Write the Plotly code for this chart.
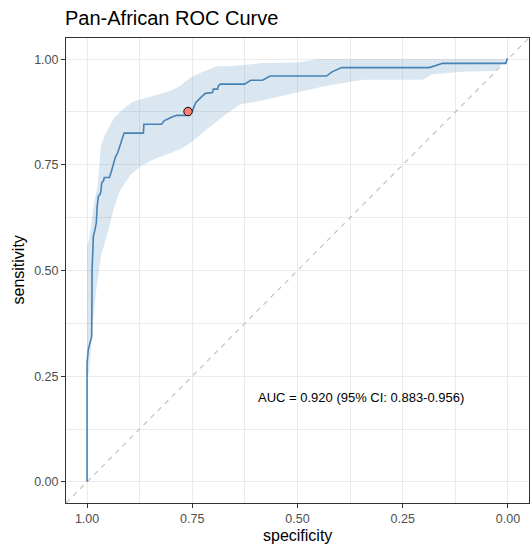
import plotly.graph_objects as go

# ROC curve (specificity, sensitivity)
roc_spec = [1.000, 1.000, 0.997, 0.993, 0.989, 0.988, 0.985, 0.981, 0.978, 0.976,
            0.973, 0.969, 0.967, 0.965, 0.961, 0.959, 0.947, 0.943, 0.937, 0.933,
            0.927, 0.912, 0.866, 0.865, 0.823, 0.817, 0.801, 0.787, 0.766, 0.760,
            0.750, 0.742, 0.730, 0.719, 0.702, 0.700, 0.690, 0.688, 0.683, 0.626,
            0.611, 0.583, 0.565, 0.431, 0.418, 0.395, 0.187, 0.155, 0.005, 0.002, 0.000]
roc_sens = [0.000, 0.281, 0.313, 0.329, 0.344, 0.502, 0.581, 0.597, 0.613, 0.652,
            0.676, 0.680, 0.688, 0.708, 0.712, 0.720, 0.720, 0.732, 0.755, 0.767,
            0.779, 0.825, 0.825, 0.846, 0.846, 0.854, 0.862, 0.867, 0.867, 0.876,
            0.877, 0.897, 0.909, 0.919, 0.921, 0.929, 0.929, 0.937, 0.941, 0.941,
            0.950, 0.950, 0.960, 0.960, 0.970, 0.980, 0.980, 0.990, 0.990, 1.000, 1.000]

# 95% CI band of sensitivity
ci_upper_spec = [1.000, 0.995, 0.983, 0.975, 0.967, 0.959, 0.935, 0.920, 0.892, 0.857,
                 0.801, 0.778, 0.754, 0.730, 0.691, 0.660, 0.581, 0.502, 0.455, 0.000]
ci_upper_sens = [0.558, 0.573, 0.661, 0.700, 0.795, 0.818, 0.862, 0.877, 0.899, 0.909,
                 0.925, 0.937, 0.957, 0.968, 0.983, 0.983, 0.991, 0.992, 1.000, 1.000]
ci_lower_spec = [1.000, 0.995, 0.987, 0.979, 0.967, 0.951, 0.935, 0.920, 0.896, 0.872,
                 0.841, 0.809, 0.778, 0.754, 0.730, 0.715, 0.675, 0.636, 0.589, 0.557,
                 0.502, 0.431, 0.344, 0.203, 0.179, 0.100, 0.029, 0.005, 0.000]
ci_lower_sens = [0.251, 0.258, 0.368, 0.448, 0.534, 0.590, 0.652, 0.692, 0.727, 0.747,
                 0.763, 0.775, 0.787, 0.803, 0.822, 0.834, 0.866, 0.893, 0.901, 0.909,
                 0.921, 0.937, 0.951, 0.951, 0.964, 0.971, 0.972, 1.000, 1.000]

# Best threshold point
best_spec = [0.760]
best_sens = [0.876]

auc_text = "AUC = 0.920 (95% CI: 0.883-0.956)"
auc_pos = (0.35, 0.2)

tick_vals = [1.0, 0.75, 0.5, 0.25, 0.0]
tick_text = ["1.00", "0.75", "0.50", "0.25", "0.00"]
minor_vals = [0.875, 0.625, 0.375, 0.125]

lo, hi = 0.0, 1.0
pad = 0.05 * (hi - lo)
rng_lo, rng_hi = lo - pad, hi + pad

FONT = "Liberation Sans, Arial, Helvetica, sans-serif"
steel = "#4682B4"

W, H = 531, 548
ML, MR, MT, MB = 66, 2, 38, 45
PW, PH = W - ML - MR, H - MT - MB

fig = go.Figure()

# diagonal reference (sens = 1 - spec), across full panel
diag_x = [rng_hi, rng_lo]
diag_y = [1 - v for v in diag_x]
fig.add_trace(go.Scatter(x=diag_x, y=diag_y, mode="lines",
                         line=dict(color="#BEBEBE", width=1.1, dash="5px,5px"),
                         hoverinfo="skip", showlegend=False))

# CI band
band_x = ci_upper_spec + ci_lower_spec[::-1]
band_y = ci_upper_sens + ci_lower_sens[::-1]
fig.add_trace(go.Scatter(x=band_x, y=band_y, mode="lines", fill="toself",
                         fillcolor="rgba(70,130,180,0.2)", line=dict(width=0),
                         hoverinfo="skip", showlegend=False))

# ROC curve
fig.add_trace(go.Scatter(x=roc_spec, y=roc_sens, mode="lines",
                         line=dict(color=steel, width=1.6),
                         showlegend=False))

# best point
fig.add_trace(go.Scatter(x=best_spec, y=best_sens, mode="markers",
                         marker=dict(color="#FA8072", size=8.5,
                                     line=dict(color="black", width=1)),
                         showlegend=False))

axis_common = dict(
    tickmode="array", tickvals=tick_vals, ticktext=tick_text,
    ticks="outside", ticklen=4, tickcolor="#333333", tickwidth=1,
    tickfont=dict(family=FONT, size=12.5, color="#4D4D4D"),
    showgrid=True, gridcolor="#EBEBEB", gridwidth=1.1,
    minor=dict(tickmode="array", tickvals=minor_vals, showgrid=True,
               gridcolor="#EBEBEB", gridwidth=0.55, ticks=""),
    showline=True, linecolor="#333333", linewidth=1, mirror=True,
    zeroline=False,
)

fig.update_layout(
    width=W, height=H,
    margin=dict(l=ML, r=MR, t=MT, b=MB),
    paper_bgcolor="white", plot_bgcolor="white",
    xaxis=dict(range=[rng_hi, rng_lo], **axis_common),
    yaxis=dict(range=[rng_lo, rng_hi], **axis_common),
    title=dict(text="Pan-African ROC Curve", x=65 / W, xref="container",
               xanchor="left", y=1 - 18 / H, yref="container", yanchor="middle",
               font=dict(family=FONT, size=20, color="black")),
    font=dict(family=FONT),
    annotations=[
        dict(text=auc_text, x=auc_pos[0], y=auc_pos[1], xref="x", yref="y",
             showarrow=False, font=dict(family=FONT, size=13, color="black"),
             xanchor="center", yanchor="middle"),
        dict(text="specificity", x=0.5, xref="paper",
             y=(H - MB - 535) / PH, yref="paper",
             showarrow=False, xanchor="center", yanchor="middle",
             font=dict(family=FONT, size=16, color="black")),
        dict(text="sensitivity", x=(18 - ML) / PW, xref="paper", y=0.5, yref="paper",
             showarrow=False, xanchor="center", yanchor="middle", textangle=-90,
             font=dict(family=FONT, size=16, color="black")),
    ],
)

fig.write_html("out.html")
